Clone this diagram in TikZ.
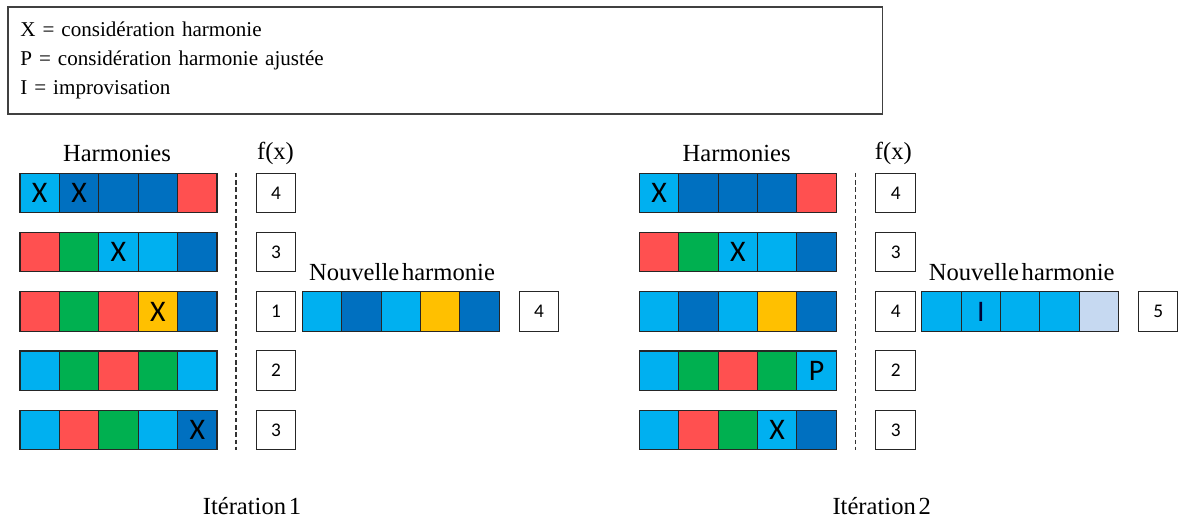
\documentclass[tikz,border=0pt]{standalone}
\usepackage{fontspec}
\setmainfont{Liberation Serif}[WordSpace=0.45]
\newfontfamily\cellfont{Carlito}
\usepackage{tikz}

\definecolor{lb}{HTML}{00B0F0}
\definecolor{db}{HTML}{0070C0}
\definecolor{rd}{HTML}{FF5050}
\definecolor{gr}{HTML}{00B050}
\definecolor{yl}{HTML}{FFC000}
\definecolor{pb}{HTML}{C6D9F1}

\begin{document}
\begin{tikzpicture}[x=0.02cm, y=-0.02cm,
  cell/.style={draw=black!85, line width=0.6pt, minimum width=0.788cm, minimum height=0.788cm, inner sep=0pt, font=\cellfont\fontsize{17}{17}\selectfont},
  score/.style={draw=black!85, line width=0.6pt, fill=white, minimum width=0.79cm, minimum height=0.79cm, inner sep=0pt, font=\cellfont\fontsize{11}{11}\selectfont},
  title/.style={font=\fontsize{14}{15}\selectfont, inner sep=0pt},
  sep/.style={black!80, line width=0.6pt, dash pattern=on 2.5pt off 1.6pt}]

\useasboundingbox (0,0) rectangle (1178,519);

% legende
\node[draw=black!75, line width=0.9pt, anchor=north west, minimum width=17.5cm, minimum height=2.14cm,
  text width=17.0cm, inner xsep=0.25cm, align=left, font=\fontsize{12}{16.7}\selectfont]
  (legend) at (7,6) {X = considération harmonie\\P = considération harmonie ajustée\\I = improvisation};

% iteration 1
\node[title] (harm1) at (117,153) {Harmonies};
\node[title] (fx1) at (275.5,153) {f(x)};

\foreach \c/\t [count=\i] in {lb/X,db/X,db/{},db/{},rd/{}}
  \node[cell, fill=\c] (a1c\i) at ({0.3+39.4*\i},193) {\t};
\foreach \c/\t [count=\i] in {rd/{},gr/{},lb/X,lb/{},db/{}}
  \node[cell, fill=\c] (a2c\i) at ({0.3+39.4*\i},252.2) {\t};
\foreach \c/\t [count=\i] in {rd/{},gr/{},rd/{},yl/X,db/{}}
  \node[cell, fill=\c] (a3c\i) at ({0.3+39.4*\i},311.5) {\t};
\foreach \c/\t [count=\i] in {lb/{},gr/{},rd/{},gr/{},lb/{}}
  \node[cell, fill=\c] (a4c\i) at ({0.3+39.4*\i},370.7) {\t};
\foreach \c/\t [count=\i] in {lb/{},rd/{},gr/{},lb/{},db/X}
  \node[cell, fill=\c] (a5c\i) at ({0.3+39.4*\i},430) {\t};

\draw[sep] (236,173) -- (236,450);

\foreach \s/\y [count=\i] in {4/193,3/252.2,1/311.5,2/370.7,3/430}
  \node[score] (fa\i) at (276,\y) {\s};

\node[title] (new1) at (402,272) {Nouvelle harmonie};
\foreach \c [count=\i] in {lb,db,lb,yl,db}
  \node[cell, fill=\c] (na\i) at ({282.6+39.4*\i},311.5) {};
\node[score] (fna) at (539,311.5) {4};

\node[title] (it1) at (252,506) {Itération 1};

% iteration 2
\node[title] (harm2) at (736.7,153) {Harmonies};
\node[title] (fx2) at (893.3,153) {f(x)};

\foreach \c/\t [count=\i] in {lb/X,db/{},db/{},db/{},rd/{}}
  \node[cell, fill=\c] (b1c\i) at ({619.6+39.4*\i},193) {\t};
\foreach \c/\t [count=\i] in {rd/{},gr/{},lb/X,lb/{},db/{}}
  \node[cell, fill=\c] (b2c\i) at ({619.6+39.4*\i},252.2) {\t};
\foreach \c/\t [count=\i] in {lb/{},db/{},lb/{},yl/{},db/{}}
  \node[cell, fill=\c] (b3c\i) at ({619.6+39.4*\i},311.5) {\t};
\foreach \c/\t [count=\i] in {lb/{},gr/{},rd/{},gr/{},lb/P}
  \node[cell, fill=\c] (b4c\i) at ({619.6+39.4*\i},370.7) {\t};
\foreach \c/\t [count=\i] in {lb/{},rd/{},gr/{},lb/X,db/{}}
  \node[cell, fill=\c] (b5c\i) at ({619.6+39.4*\i},430) {\t};

\draw[sep] (855.7,173) -- (855.7,450);

\foreach \s/\y [count=\i] in {4/193,3/252.2,4/311.5,2/370.7,3/430}
  \node[score] (fb\i) at (895.7,\y) {\s};

\node[title] (new2) at (1021.7,272) {Nouvelle harmonie};
\foreach \c/\t [count=\i] in {lb/{},lb/I,lb/{},lb/{},pb/{}}
  \node[cell, fill=\c, text=black!80!blue] (nb\i) at ({902+39.4*\i},311.5) {\t};
\node[score] (fnb) at (1158.2,311.5) {5};

\node[title] (it2) at (881.7,506) {Itération 2};

\end{tikzpicture}
\end{document}
